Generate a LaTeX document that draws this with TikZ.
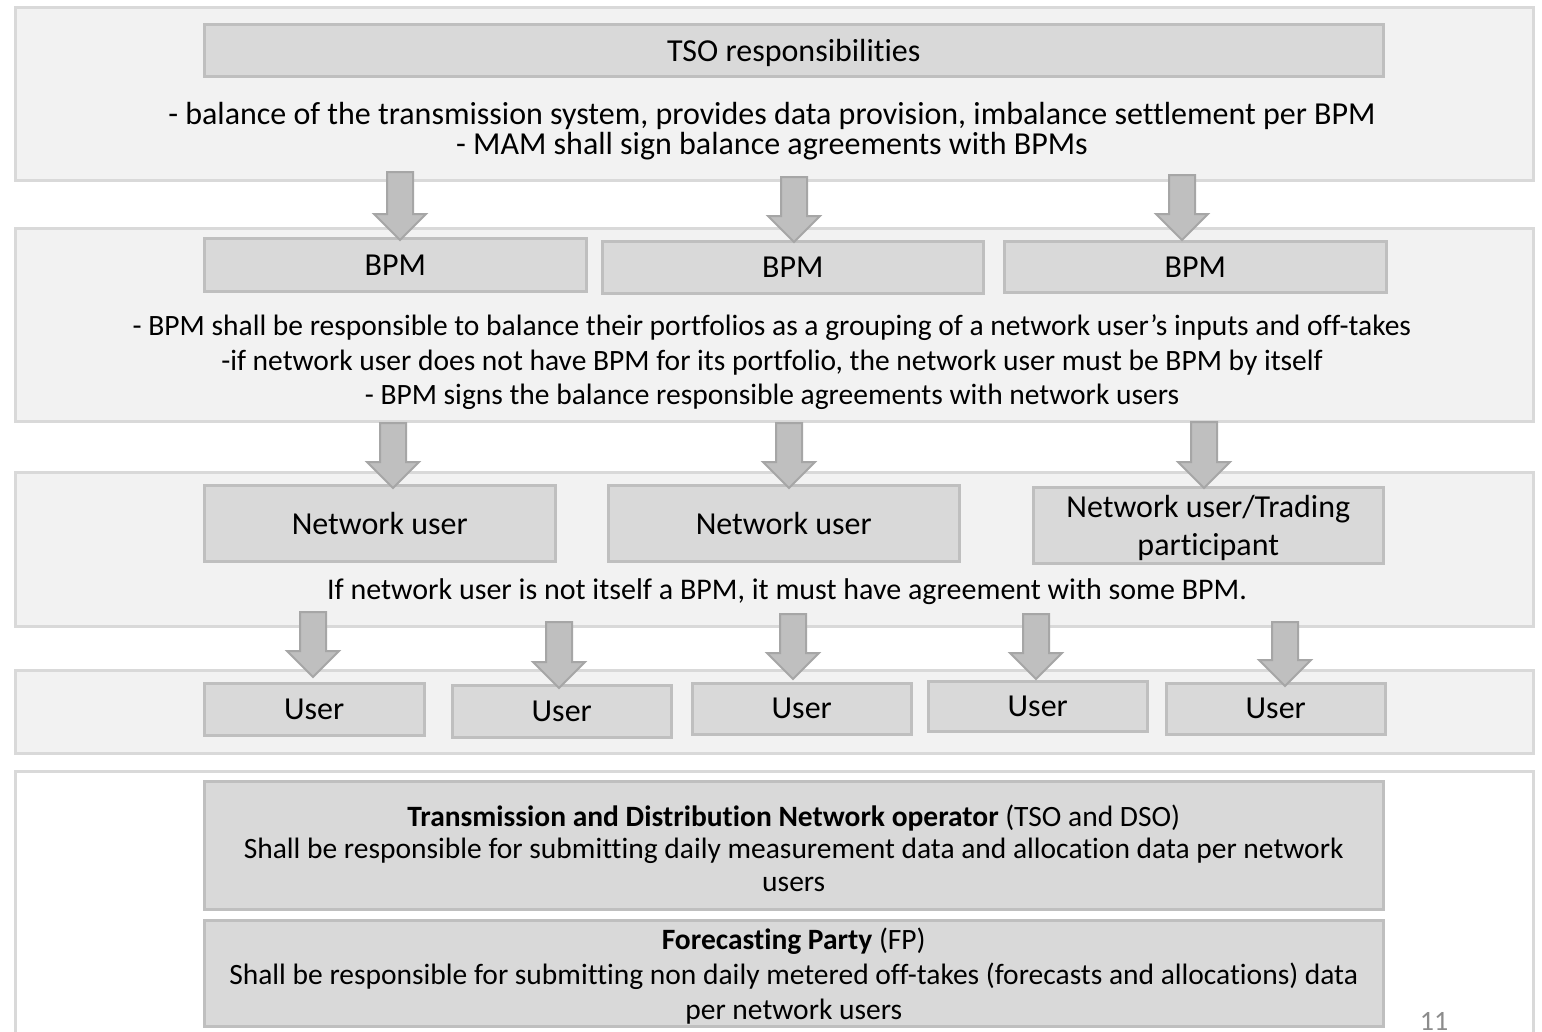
\documentclass[tikz,border=0pt]{standalone}
\usepackage{fontspec}
\setmainfont{Carlito}[Ligatures=NoCommon]
\definecolor{panelfill}{HTML}{F2F2F2}
\definecolor{panelline}{HTML}{D9D9D9}
\definecolor{boxfill}{HTML}{D9D9D9}
\definecolor{boxline}{HTML}{BFBFBF}
\definecolor{arrfill}{HTML}{BFBFBF}
\definecolor{arrline}{HTML}{A6A6A6}
\definecolor{pagenum}{HTML}{8C8C8C}
\newcommand\fsz[2]{\fontsize{#1}{#2}\selectfont}
\newcommand\barrow[4]{%
  \draw[arr] (#2-13,#3) -- (#2+13,#3) -- (#2+13,#4-26) -- (#2+26,#4-26) -- (#2,#4)
    -- (#2-26,#4-26) -- (#2-13,#4-26) -- cycle;
  \coordinate (#1) at (#2,#4);}
\begin{document}
\begin{tikzpicture}[x=1pt,y=-1pt,
  panel/.style={draw=panelline, fill=panelfill, line width=2.5pt, anchor=north west, inner sep=0pt},
  wpanel/.style={panel, fill=white},
  box/.style={draw=boxline, fill=boxfill, line width=2.5pt, anchor=north west, inner sep=0pt,
    font=\fsz{32}{38}, align=center},
  body/.style={font=\fsz{32}{30}, align=center, inner sep=0pt},
  arr/.style={draw=arrline, fill=arrfill, line width=2pt, line join=miter}]
\useasboundingbox (0,0) rectangle (1542,1031);
\fill[white] (0,0) rectangle (1542,1031);
% panels
\node[panel, minimum width=1518pt, minimum height=173pt] (p1) at (14,6) {};
\node[panel, minimum width=1518pt, minimum height=193pt] (p2) at (14,227) {};
\node[panel, minimum width=1518pt, minimum height=154pt] (p3) at (14,471) {};
\node[panel, minimum width=1518pt, minimum height=83pt] (p4) at (14,669) {};
\node[wpanel, minimum width=1518pt, minimum height=280pt] (p5) at (14,770) {};
% boxes
\node[box, minimum width=1179pt, minimum height=52pt, text depth=0pt] (tso) at (203,23) {TSO responsibilities};
\node[box, minimum width=382pt, minimum height=53pt] (bpm1) at (203,237) {BPM};
\node[box, minimum width=381pt, minimum height=52pt] (bpm2) at (601,240) {BPM};
\node[box, minimum width=382pt, minimum height=51pt] (bpm3) at (1003,240) {BPM};
\node[box, minimum width=351pt, minimum height=76pt] (nu1) at (203,484) {Network user};
\node[box, minimum width=351pt, minimum height=76pt] (nu2) at (607,484) {Network user};
\node[box, minimum width=350pt, minimum height=76pt, text depth=0pt] (nu3) at (1032,486) {Network user/Trading\\participant};
\node[box, minimum width=220pt, minimum height=52pt] (u1) at (203,682) {User};
\node[box, minimum width=219pt, minimum height=52pt] (u2) at (451,684) {User};
\node[box, minimum width=219pt, minimum height=51pt] (u3) at (691,682) {User};
\node[box, minimum width=219pt, minimum height=50pt] (u4) at (927,680) {User};
\node[box, minimum width=219pt, minimum height=51pt] (u5) at (1165,682) {User};
\node[box, minimum width=1179pt, minimum height=128pt] (tdn) at (203,780) {};
\node[box, minimum width=1179pt, minimum height=106pt] (fp) at (203,919) {};
% body texts
\node[body] (t1) at (772,131) {- balance of the transmission system, provides data provision, imbalance settlement per BPM\\- MAM shall sign balance agreements with BPMs};
\node[body, font=\fsz{29.5}{34.5}] (t2) at (772,362.5) {- BPM shall be responsible to balance their portfolios as a grouping of a network user’s inputs and off-takes\\-if network user does not have BPM for its portfolio, the network user must be BPM by itself\\- BPM signs the balance responsible agreements with network users};
\node[body, font=\fsz{30}{30}] (t3) at (787,592) {If network user is not itself a BPM, it must have agreement with some BPM.};
\node[body, font=\fsz{29.5}{32.5}] (t4) at ([yshift=-3pt]tdn.center) {\textbf{Transmission and Distribution Network operator} (TSO and DSO)\\Shall be responsible for submitting daily measurement data and allocation data per network\\users};
\node[body, font=\fsz{29.5}{35}] (t5) at ([yshift=-3pt]fp.center) {\textbf{Forecasting Party} (FP)\\Shall be responsible for submitting non daily metered off-takes (forecasts and allocations) data\\per network users};
\node[font=\fsz{28}{32}, text=pagenum, anchor=base, inner sep=0pt] (pg) at (1434,1030) {11};
% arrows
\barrow{a1}{400}{172}{240}
\barrow{a2}{794}{177}{242}
\barrow{a3}{1182}{175}{240}
\barrow{b1}{393}{423}{488}
\barrow{b2}{789}{423}{488}
\barrow{b3}{1204}{422}{488}
\barrow{c1}{313}{612}{677}
\barrow{c2}{559}{622}{688}
\barrow{c3}{793}{614}{679}
\barrow{c4}{1036}{614}{679}
\barrow{c5}{1285}{622}{686}
\end{tikzpicture}
\end{document}
